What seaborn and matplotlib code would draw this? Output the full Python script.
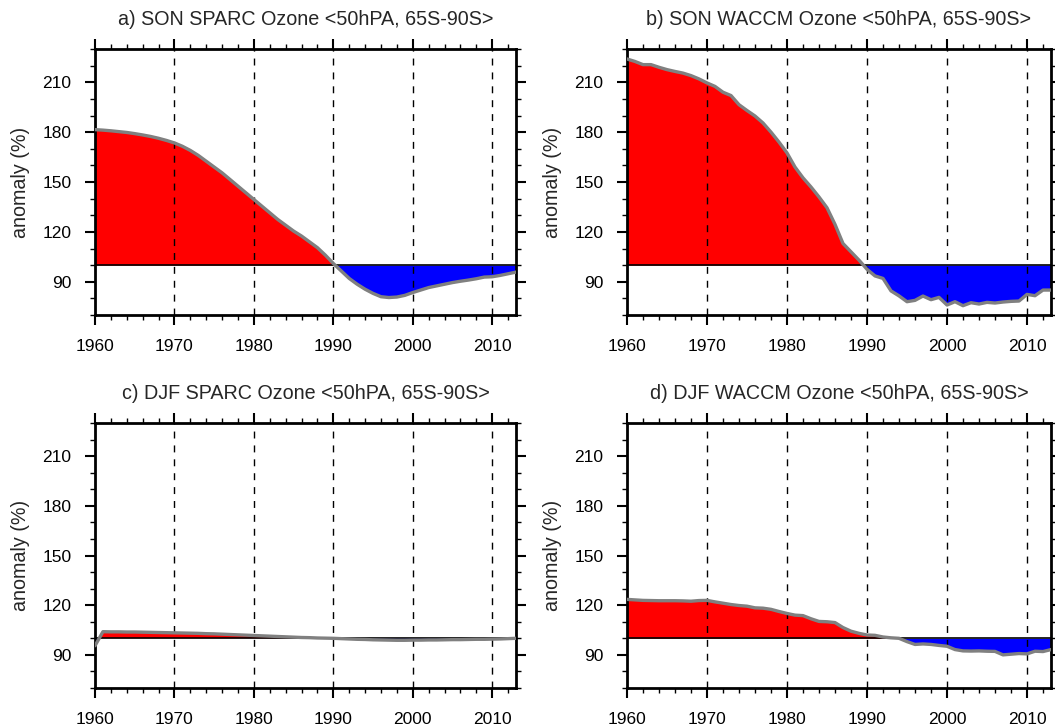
import numpy as np
import pandas as pd
import matplotlib
matplotlib.use("Agg")
import matplotlib.pyplot as plt
import seaborn as sns
from matplotlib.ticker import MultipleLocator

years = list(range(1960, 2014))

son_sparc = [181.5, 181.2, 180.8, 180.3, 179.8, 179.1, 178.3, 177.4, 176.3, 175.0,
             173.5, 171.5, 169.0, 166.0, 162.5, 159.0, 155.5, 151.5, 147.5, 143.5,
             139.5, 135.5, 131.5, 127.5, 124.0, 120.5, 117.5, 114.0, 110.5, 106.0,
             101.0, 96.5, 92.0, 88.5, 85.5, 83.0, 81.0, 80.5, 80.8, 81.8,
             83.5, 85.0, 86.5, 87.5, 88.5, 89.5, 90.3, 91.0, 91.8, 92.8,
             93.0, 93.8, 94.8, 95.8]

son_waccm = [224.0, 222.5, 220.6, 220.6, 219.0, 217.6, 216.5, 215.5, 214.0, 212.0,
             209.6, 207.5, 204.0, 202.0, 196.5, 193.0, 189.7, 185.5, 180.0, 174.0,
             167.5, 159.0, 152.5, 147.0, 141.0, 134.5, 124.5, 113.0, 108.0, 103.0,
             97.5, 93.5, 92.0, 84.5, 81.5, 78.0, 78.8, 81.4, 79.2, 80.6,
             76.0, 78.0, 75.6, 77.4, 76.6, 77.6, 77.2, 77.8, 78.2, 78.4,
             82.4, 81.6, 85.0, 85.0]

djf_sparc = [95.5, 104.0, 103.9, 103.9, 103.8, 103.8, 103.7, 103.6, 103.5, 103.4,
             103.3, 103.2, 103.1, 103.0, 102.8, 102.7, 102.5, 102.3, 102.1, 101.9,
             101.7, 101.5, 101.3, 101.1, 100.9, 100.7, 100.5, 100.4, 100.2, 100.1,
             100.0, 99.8, 99.6, 99.4, 99.3, 99.1, 99.0, 98.9, 98.8, 98.8,
             98.9, 98.9, 99.0, 99.0, 99.1, 99.2, 99.2, 99.3, 99.4, 99.4,
             99.5, 99.6, 99.8, 100.0]

djf_waccm = [123.5, 123.2, 122.9, 122.8, 122.7, 122.7, 122.7, 122.6, 122.4, 122.8,
             122.9, 122.0, 121.2, 120.4, 119.8, 119.4, 118.4, 118.2, 117.5, 116.2,
             115.0, 114.0, 113.7, 111.8, 110.2, 110.0, 109.5, 106.5, 104.3, 103.0,
             102.0, 101.8, 100.8, 100.3, 100.0, 98.0, 96.3, 96.6, 96.3, 95.7,
             95.2, 93.2, 92.4, 92.3, 92.4, 92.2, 92.1, 90.0, 90.4, 90.8,
             90.6, 92.2, 92.0, 93.2]

titles = ["a) SON SPARC Ozone <50hPA, 65S-90S>",
          "b) SON WACCM Ozone <50hPA, 65S-90S>",
          "c) DJF SPARC Ozone <50hPA, 65S-90S>",
          "d) DJF WACCM Ozone <50hPA, 65S-90S>"]
series = [son_sparc, son_waccm, djf_sparc, djf_waccm]
ref_value = 100
grid_years = [1970, 1980, 1990, 2000, 2010]
ytick_values = [90, 120, 150, 180, 210]

sns.set_theme(style="white")
plt.rcParams['font.family'] = ['Liberation Sans', 'DejaVu Sans']

fig = plt.figure(figsize=(10.55, 7.28), dpi=100)
W, H = 1055, 728
boxes = [(95, 49, 516, 315), (627, 49, 1051, 315),
         (95, 423, 516, 688), (627, 423, 1051, 688)]

for box, title, vals in zip(boxes, titles, series):
    l, t, r, b = box
    ax = fig.add_axes([l / W, 1 - b / H, (r - l) / W, (b - t) / H])
    df = pd.DataFrame({"year": years, "value": vals})
    y = np.array(vals)
    x = np.array(years)
    ax.fill_between(x, ref_value, y, where=y >= ref_value, interpolate=True,
                    color="#ff0000", linewidth=0, zorder=1)
    ax.fill_between(x, ref_value, y, where=y <= ref_value, interpolate=True,
                    color="#0000ff", linewidth=0, zorder=1)
    ax.axhline(ref_value, color="black", linewidth=1.2, zorder=2)
    for gy in grid_years:
        ax.axvline(gy, color="black", linewidth=1.0, linestyle=(0, (5, 5)), zorder=3)
    sns.lineplot(data=df, x="year", y="value", ax=ax, color="#808080",
                 linewidth=2.4, zorder=4)
    ax.set_xlim(1960, 2013)
    ax.set_ylim(70, 230)
    ax.xaxis.set_major_locator(MultipleLocator(10))
    ax.xaxis.set_minor_locator(MultipleLocator(2))
    ax.yaxis.set_minor_locator(MultipleLocator(10))
    ax.set_yticks(ytick_values)
    ax.tick_params(which="both", direction="out", top=True, right=True,
                   bottom=True, left=True, labeltop=False, labelright=False,
                   colors="black")
    ax.tick_params(which="major", length=7, width=1.5, labelsize=12.5)
    ax.tick_params(which="minor", length=3.5, width=1.0)
    ax.tick_params(axis="y", which="major", pad=10)
    ax.tick_params(axis="x", which="major", pad=10)
    for s in ax.spines.values():
        s.set_linewidth(2.0)
        s.set_color("black")
    ax.set_xlabel("")
    ax.set_ylabel("anomaly (%)", fontsize=14.2, labelpad=9)
    ax.set_title(title, fontsize=14.2, pad=17)

fig.savefig("out.png", dpi=100)
